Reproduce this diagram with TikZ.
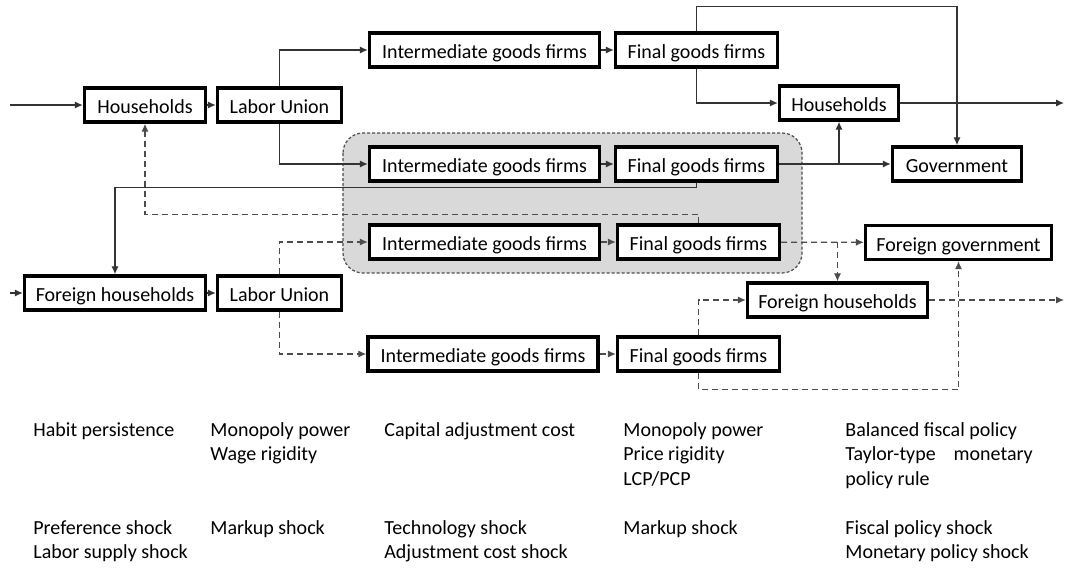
\documentclass[tikz,border=0pt]{standalone}
\usepackage{fontspec}
\setmainfont{Carlito}
\usetikzlibrary{arrows.meta}

\tikzset{
  firm/.style={draw, line width=1.7pt, fill=white, minimum height=17pt, inner sep=1pt, text height=9pt, text depth=0.5pt, minimum width=#1},
  link/.style={draw=black!80, line width=0.6pt, -{Latex[length=4pt,width=3.6pt]}},
  flink/.style={link, draw=black!70, dash pattern=on 3pt off 2pt},
  note/.style={anchor=north west, inner sep=0pt, align=left},
}

\begin{document}
\begin{tikzpicture}[x=0.5pt, y=-0.5pt, font=\fontsize{10}{12.25}\selectfont]
  \useasboundingbox (0,0) rectangle (1065,568);

  % shaded block behind the middle firms
  \draw [fill=black!15, draw=black!70, dash pattern=on 1.5pt off 1pt, line width=0.6pt, rounded corners=10pt] (343,133) rectangle (802,273);

  \node [firm=60.5pt] (hh) at (145,105) {Households};
  \node [firm=62pt] (lu) at (279.5,105) {Labor Union};
  \node [firm=115pt] (ig1) at (484.5,50) {Intermediate goods firms};
  \node [firm=81pt] (fg1) at (696.5,50) {Final goods firms};
  \node [firm=115pt] (ig2) at (484.5,164) {Intermediate goods firms};
  \node [firm=81pt] (fg2) at (696.5,164) {Final goods firms};
  \node [firm=59.5pt] (hh2) at (839,103) {Households};
  \node [firm=64.5pt] (gov) at (957,164) {Government};

  \node [firm=90.5pt] (fhh) at (115,293) {Foreign households};
  \node [firm=62pt] (flu) at (279.5,293) {Labor Union};
  \node [firm=115pt] (ig3) at (484.5,242) {Intermediate goods firms};
  \node [firm=81pt] (fg3) at (698.5,242) {Final goods firms};
  \node [firm=115pt] (ig4) at (483,354) {Intermediate goods firms};
  \node [firm=81pt] (fg4) at (698.5,354) {Final goods firms};
  \node [firm=90pt] (fhh2) at (837.5,300) {Foreign households};
  \node [firm=93pt] (fgov) at (958.5,242.5) {Foreign government};

  \coordinate (in1) at (10,105);
  \coordinate (in2) at (10,293);
  \coordinate (out1) at (1064,103);
  \coordinate (out2) at (1064,300);

  % home economy
  \draw [link] (in1) -- (hh);
  \draw [link] (hh) -- (lu);
  \draw [link] (lu.north) |- (ig1);
  \draw [link] (lu.south) |- (ig2);
  \draw [link] (ig1) -- (fg1);
  \draw [link] (ig2) -- (fg2);
  \draw [link] (fg1.south) |- (hh2);
  \draw [link] (fg1.north) -- ++(0,-24.5) -| (gov);
  \draw [link] (fg2) -- (gov);
  \draw [link] (fg2.east -| hh2.south) -- (hh2.south);
  \draw [link] (fg2.south) -- ++(0,5) -| (fhh);
  \draw [link] (hh2) -- (out1);

  % foreign economy
  \draw [link] (in2) -- (fhh);
  \draw [link] (fhh) -- (flu);
  \draw [flink] (flu.north) |- (ig3);
  \draw [flink] (flu.south) |- (ig4);
  \draw [flink] (ig3) -- (fg3);
  \draw [flink] (ig4) -- (fg4);
  \draw [flink] (fg3.north) -- ++(0,-9) -| (hh.south);
  \draw [flink] (fg3) -- (fgov);
  \draw [flink] (fg3.east -| fhh2.north) -- (fhh2.north);
  \draw [flink] (fg4.north) |- (fhh2);
  \draw [flink] (fg4.south) -- ++(0,17) -| (fgov.south);
  \draw [flink] (fhh2) -- (out2);

  \pgfmathsetmacro{\ya}{422}
  \pgfmathsetmacro{\yb}{520}

  \node [note] (c1a) at (33,\ya) {Habit persistence};
  \node [note] (c2a) at (210,\ya) {Monopoly power\\Wage rigidity};
  \node [note] (c3a) at (384,\ya) {Capital adjustment cost};
  \node [note] (c4a) at (623,\ya) {Monopoly power\\Price rigidity\\LCP/PCP};
  \node [note] (c5a) at (845,\ya) {Balanced fiscal policy\\Taylor-type\hspace{9pt}monetary\\policy rule};

  \node [note] (c1b) at (33,\yb) {Preference shock\\Labor supply shock};
  \node [note] (c2b) at (210,\yb) {Markup shock};
  \node [note] (c3b) at (384,\yb) {Technology shock\\Adjustment cost shock};
  \node [note] (c4b) at (623,\yb) {Markup shock};
  \node [note] (c5b) at (845,\yb) {Fiscal policy shock\\Monetary policy shock};
\end{tikzpicture}
\end{document}
